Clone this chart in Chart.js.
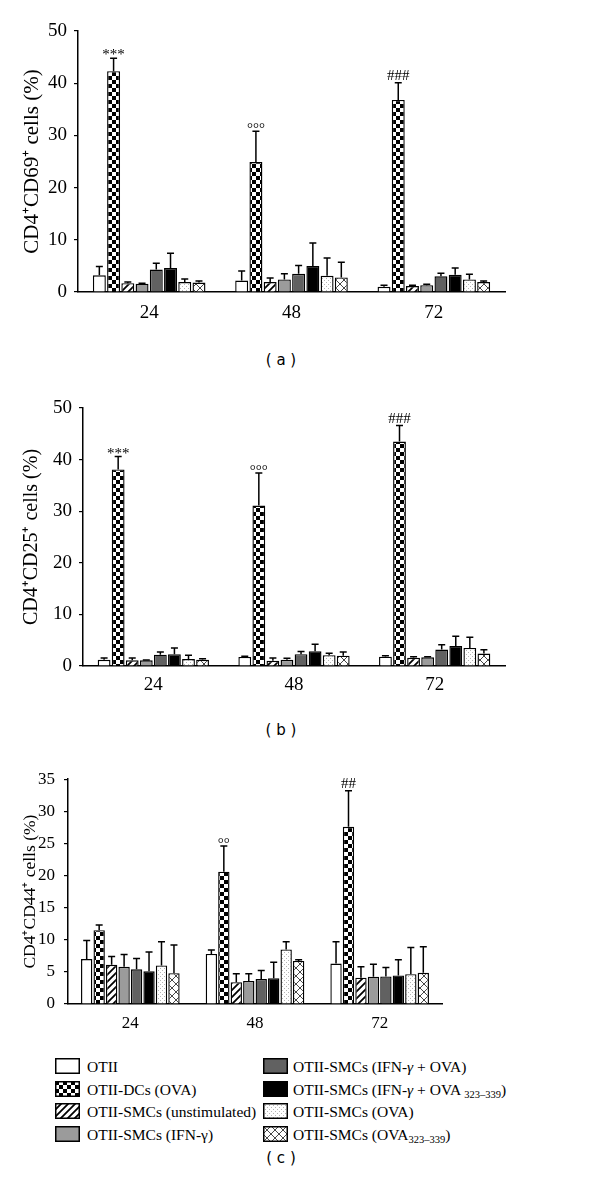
<!DOCTYPE html>
<html>
<head>
<meta charset="utf-8">
<script src="https://cdn.jsdelivr.net/npm/chart.js@4.4.1/dist/chart.umd.min.js"></script>
<style>
  body { margin: 0; background: #fff; }
  #page { position: relative; width: 600px; height: 1200px; overflow: hidden; font-family: "Liberation Serif", serif; }
  canvas.plot { position: absolute; left: 0; }
  .cap { position: absolute; left: 0; width: 562px; text-align: center; font-family: "DejaVu Sans", sans-serif; font-size: 15px; line-height: 18px; }
  .sw { position: absolute; }
  .lt { position: absolute; font-size: 15.5px; line-height: 15px; white-space: nowrap; }
  .lt sub { font-size: 10.5px; vertical-align: -3px; line-height: 0; }
</style>
</head>
<body>
<div id="page">
  <canvas class="plot" id="chartA" width="600" height="335" style="top:0"></canvas>
  <div class="cap" style="top:351px">( a )</div>
  <canvas class="plot" id="chartB" width="600" height="335" style="top:380px"></canvas>
  <div class="cap" style="top:721px">( b )</div>
  <canvas class="plot" id="chartC" width="600" height="290" style="top:760px"></canvas>
  <div id="legend"></div>
  <div class="cap" style="top:1149px">( c )</div>
</div>
<script>
// 時間 (h)
const hours = ['24', '48', '72'];

const groups = [
  'OTII',
  'OTII-DCs (OVA)',
  'OTII-SMCs (unstimulated)',
  'OTII-SMCs (IFN-γ)',
  'OTII-SMCs (IFN-γ + OVA)',
  'OTII-SMCs (IFN-γ + OVA 323–339)',
  'OTII-SMCs (OVA)',
  'OTII-SMCs (OVA323–339)'
];

const legendLabels = [
  'OTII',
  'OTII-DCs (OVA)',
  'OTII-SMCs (unstimulated)',
  'OTII-SMCs (IFN-γ)',
  'OTII-SMCs (IFN-<i>γ</i> + OVA)',
  'OTII-SMCs (IFN-<i>γ</i> + OVA <sub>323–339</sub>)',
  'OTII-SMCs (OVA)',
  'OTII-SMCs (OVA<sub>323–339</sub>)'
];

// (a) CD4+CD69+  [24, 48, 72] per group
const cd69Mean = [
  [3.2, 2.2, 1.0],
  [42.3, 24.9, 36.8],
  [1.7, 1.9, 1.15],
  [1.6, 2.4, 1.3],
  [4.3, 3.5, 3.0],
  [4.6, 5.0, 3.3],
  [1.9, 3.1, 2.4],
  [1.8, 2.8, 1.9]
];
const cd69Sd = [
  [1.7, 1.8, 0.3],
  [2.5, 5.9, 3.3],
  [0.2, 0.8, 0.15],
  [0.1, 1.1, 0.2],
  [1.2, 1.6, 0.6],
  [2.8, 4.4, 1.3],
  [0.6, 3.4, 1.0],
  [0.3, 2.9, 0.2]
];
const cd69Marks = ['***', '°°°', '###'];

// (b) CD4+CD25+
const cd25Mean = [
  [1.2, 1.75, 1.8],
  [38.1, 31.1, 43.5],
  [1.1, 1.0, 1.6],
  [1.1, 1.2, 1.7],
  [2.2, 2.3, 3.2],
  [2.3, 2.85, 3.9],
  [1.35, 2.1, 3.5],
  [1.2, 2.0, 2.4]
];
const cd25Sd = [
  [0.35, 0.15, 0.2],
  [2.5, 6.3, 3.1],
  [0.45, 0.55, 0.2],
  [0.05, 0.3, 0.1],
  [0.5, 0.5, 0.9],
  [1.2, 1.35, 1.85],
  [0.75, 0.35, 2.05],
  [0.2, 0.7, 0.75]
];
const cd25Marks = ['***', '°°°', '###'];

// (c) CD4+CD44+
const cd44Mean = [
  [7.0, 7.8, 6.3],
  [11.5, 20.6, 27.6],
  [6.1, 3.4, 4.1],
  [5.8, 3.6, 4.25],
  [5.4, 3.9, 4.3],
  [5.1, 4.0, 4.45],
  [6.0, 8.5, 4.65],
  [4.8, 6.7, 4.85]
];
const cd44Sd = [
  [2.9, 0.6, 3.4],
  [0.8, 4.0, 5.6],
  [1.3, 1.3, 1.7],
  [1.9, 1.1, 1.95],
  [1.7, 1.3, 1.4],
  [3.0, 2.5, 2.45],
  [3.7, 1.2, 4.15],
  [4.4, 0.2, 4.05]
];
const cd44Marks = ['', '°°', '##'];

// 塗りパターン
function makePattern(kind) {
  const c = document.createElement('canvas');
  const s = kind === 'checker' ? 8 : kind === 'dots' ? 4 : kind === 'hatch' ? 7 : 8;
  c.width = c.height = s;
  const g = c.getContext('2d');
  g.fillStyle = '#fff';
  g.fillRect(0, 0, s, s);
  if (kind === 'checker') {
    g.fillStyle = '#000';
    g.fillRect(0, 0, 4, 4);
    g.fillRect(4, 4, 4, 4);
  } else if (kind === 'hatch') {
    g.strokeStyle = '#000';
    g.lineWidth = 1.8;
    g.beginPath();
    g.moveTo(-1, s + 1); g.lineTo(s + 1, -1);
    g.moveTo(-2, 2); g.lineTo(2, -2);
    g.moveTo(s - 2, s + 2); g.lineTo(s + 2, s - 2);
    g.stroke();
  } else if (kind === 'dots') {
    g.fillStyle = '#b4b4b4';
    g.fillRect(0, 0, 1, 1);
    g.fillRect(2, 2, 1, 1);
  } else if (kind === 'cross') {
    g.strokeStyle = '#333';
    g.lineWidth = 0.9;
    g.beginPath();
    g.moveTo(0, s); g.lineTo(s, 0);
    g.moveTo(0, 0); g.lineTo(s, s);
    g.stroke();
  }
  return g.createPattern(c, 'repeat');
}

const fills = [
  '#ffffff',
  makePattern('checker'),
  makePattern('hatch'),
  '#9b9b9b',
  '#616161',
  '#000000',
  makePattern('dots'),
  makePattern('cross')
];

// エラーバーと有意差記号
const errorBarPlugin = {
  id: 'errorBars',
  afterDatasetsDraw(chart, args, opts) {
    const ctx = chart.ctx;
    const yScale = chart.scales.y;
    ctx.save();
    ctx.strokeStyle = '#000';
    ctx.lineWidth = 1.5;
    chart.data.datasets.forEach((ds, i) => {
      const meta = chart.getDatasetMeta(i);
      meta.data.forEach((bar, j) => {
        const top = yScale.getPixelForValue(ds.data[j] + opts.sd[i][j]);
        ctx.beginPath();
        ctx.moveTo(bar.x, bar.y);
        ctx.lineTo(bar.x, top);
        ctx.moveTo(bar.x - opts.cap, top);
        ctx.lineTo(bar.x + opts.cap, top);
        ctx.stroke();
        if (i === 1 && opts.marks[j]) {
          ctx.font = opts.markFont;
          ctx.fillStyle = '#000';
          ctx.textAlign = 'center';
          ctx.textBaseline = 'alphabetic';
          const m = ctx.measureText(opts.marks[j]);
          const asc = m.actualBoundingBoxAscent, desc = m.actualBoundingBoxDescent;
          const c = top - 3 - (asc + desc) / 2;
          ctx.fillText(opts.marks[j], bar.x, c + (asc - desc) / 2);
        }
      });
    });
    ctx.restore();
  }
};

function buildChart(id, means, sds, marks, cfg) {
  const ctx = document.getElementById(id).getContext('2d');
  return new Chart(ctx, {
    type: 'bar',
    data: {
      labels: hours,
      datasets: groups.map((name, i) => ({
        label: name,
        data: means[i],
        backgroundColor: fills[i],
        borderColor: '#000',
        borderWidth: 1.4,
        categoryPercentage: 0.8,
        barPercentage: 0.91
      }))
    },
    options: {
      responsive: false,
      animation: false,
      devicePixelRatio: 1,
      layout: {
        padding: { left: 18, right: cfg.right, top: cfg.top, bottom: 0 }
      },
      plugins: {
        legend: { display: false },
        tooltip: { enabled: false },
        errorBars: { sd: sds, marks: marks, cap: 3.5, markFont: '15px "Liberation Serif"' }
      },
      scales: {
        x: {
          grid: { display: false },
          border: { display: true, color: '#000', width: 1.5 },
          ticks: {
            color: '#000',
            padding: cfg.xPad,
            font: { family: '"Liberation Serif"', size: cfg.tickSize }
          },
          afterFit: (scale) => { scale.height = cfg.xHeight; }
        },
        y: {
          min: 0,
          max: cfg.max,
          grid: { drawOnChartArea: false, drawTicks: true, tickLength: 4, color: '#000', lineWidth: 1.2 },
          border: { display: true, color: '#000', width: 1.5 },
          ticks: {
            stepSize: cfg.step,
            color: '#000',
            padding: cfg.yPad,
            font: { family: '"Liberation Serif"', size: cfg.tickSize }
          },
          title: {
            display: true,
            text: cfg.title,
            color: '#000',
            padding: { top: 2, bottom: 2 },
            font: { family: '"Liberation Serif"', size: cfg.titleSize }
          },
          afterFit: (scale) => { scale.width = cfg.yWidth; }
        }
      }
    },
    plugins: [errorBarPlugin]
  });
}

buildChart('chartA', cd69Mean, cd69Sd, cd69Marks, {
  max: 50, step: 10, title: 'CD4⁺CD69⁺ cells (%)', titleSize: 21, tickSize: 19,
  top: 31, right: 95, yWidth: 60, yPad: 7, xHeight: 43, xPad: 2
});
buildChart('chartB', cd25Mean, cd25Sd, cd25Marks, {
  max: 50, step: 10, title: 'CD4⁺CD25⁺ cells (%)', titleSize: 20, tickSize: 19,
  top: 28, right: 95, yWidth: 65, yPad: 7, xHeight: 49, xPad: 0
});
buildChart('chartC', cd44Mean, cd44Sd, cd44Marks, {
  max: 35, step: 5, title: 'CD4⁺CD44⁺ cells (%)', titleSize: 17.5, tickSize: 17,
  top: 16, right: 158, yWidth: 50, yPad: 9, xHeight: 46, xPad: 1
});

// 凡例 (2列)
const legend = document.getElementById('legend');
const rowTops = [1058, 1081, 1103, 1126];
legendLabels.forEach((html, i) => {
  const col = Math.floor(i / 4), row = i % 4;
  const sx = col === 0 ? 55 : 263;
  const tx = col === 0 ? 87 : 293;
  const sw = document.createElement('canvas');
  sw.className = 'sw';
  sw.width = 25; sw.height = 16;
  sw.style.left = sx + 'px';
  sw.style.top = rowTops[row] + 'px';
  const g = sw.getContext('2d');
  g.fillStyle = fills[i];
  g.fillRect(0, 0, 25, 16);
  g.strokeStyle = '#000';
  g.lineWidth = 1.5;
  g.strokeRect(0.75, 0.75, 23.5, 14.5);
  legend.appendChild(sw);
  const t = document.createElement('div');
  t.className = 'lt';
  t.style.left = tx + 'px';
  t.style.top = (rowTops[row] + 1) + 'px';
  t.innerHTML = html;
  legend.appendChild(t);
});
</script>
</body>
</html>
